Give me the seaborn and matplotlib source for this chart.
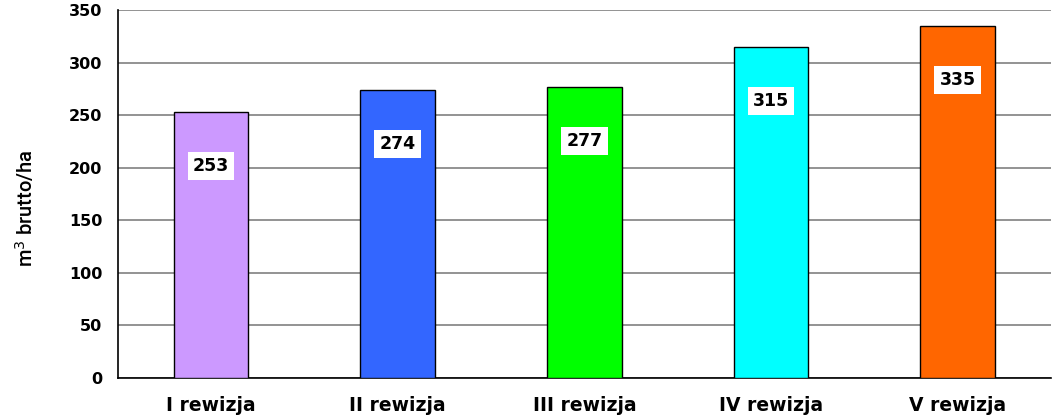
import matplotlib
matplotlib.use('Agg')
import matplotlib.pyplot as plt
import seaborn as sns
import pandas as pd
import numpy as np

# data
categories = ['I rewizja', 'II rewizja', 'III rewizja', 'IV rewizja', 'V rewizja']
values = [253, 274, 277, 315, 335]
colors = ['#CC99FF', '#3366FF', '#00FF00', '#00FFFF', '#FF6600']
y_ticks = [0, 50, 100, 150, 200, 250, 300, 350]

df = pd.DataFrame({'rewizja': categories, 'volume': values})

sns.set_style('white')
plt.rcParams['font.family'] = ['DejaVu Sans']
plt.rcParams['text.color'] = 'black'
plt.rcParams['xtick.color'] = 'black'
plt.rcParams['ytick.color'] = 'black'
plt.rcParams['axes.labelcolor'] = 'black'

fig = plt.figure(figsize=(10.52, 4.15), dpi=100)
ax = fig.add_axes([0.112, 0.089, 0.887, 0.887])

sns.barplot(data=df, x='rewizja', y='volume', hue='rewizja', palette=colors,
            saturation=1, width=0.4, edgecolor='black', linewidth=1.0,
            legend=False, ax=ax, zorder=3)

ax.set_ylim(0, 350)
ax.set_xlim(-0.5, len(categories) - 0.5)
ax.set_yticks(y_ticks)
ax.yaxis.grid(True, color='#808080', linewidth=1.2, zorder=0)
ax.set_axisbelow(True)

# value labels in white boxes inside the bars
for i, v in enumerate(values):
    ax.annotate(str(v), xy=(i, v), xytext=(0, -54), textcoords='offset pixels',
                ha='center', va='center', fontsize=12.5, fontweight='bold',
                bbox=dict(boxstyle='square,pad=0.3', fc='white', ec='none'),
                zorder=5)

for s in ['top', 'right']:
    ax.spines[s].set_visible(False)
for s in ['left', 'bottom']:
    ax.spines[s].set_color('black')
    ax.spines[s].set_linewidth(1.2)

# category separators as tick marks on the x axis
ax.set_xticks(np.arange(len(categories) + 1) - 0.5, minor=True)
ax.tick_params(axis='x', which='minor', length=5, width=1.2, color='black', direction='out')
ax.tick_params(axis='x', which='major', length=0, pad=13, labelsize=13.5)
ax.tick_params(axis='y', length=5, width=1.2, color='black', direction='out',
               labelsize=11.5, pad=6)
for lbl in ax.get_xticklabels() + ax.get_yticklabels():
    lbl.set_fontweight('bold')

ax.set_xlabel('')
ax.set_ylabel('m$^3$ brutto/ha', fontsize=14.5, family=['Roboto', 'DejaVu Sans'],
              fontweight='medium')
ax.yaxis.set_label_coords(-0.087, 0.462)

fig.savefig('out.png', dpi=100)
